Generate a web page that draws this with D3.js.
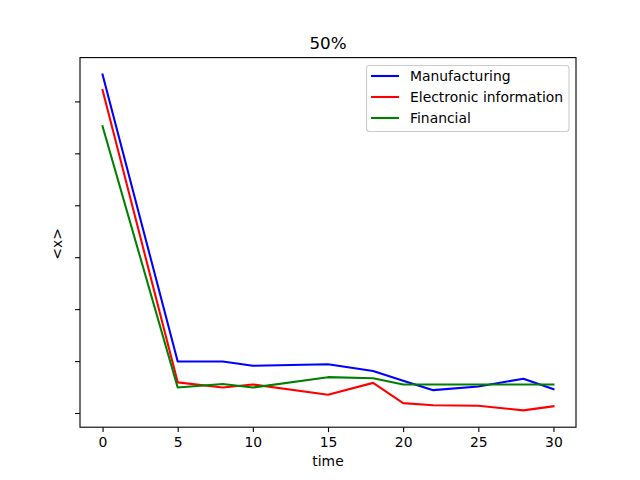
<!DOCTYPE html>
<html><head><meta charset="utf-8">
<script src="https://cdn.jsdelivr.net/npm/d3@7"></script>
<style>body{margin:0;background:#fff}svg{display:block;font-family:"DejaVu Sans",sans-serif}</style>
</head><body><svg id="c" width="640" height="480"></svg>
<script>
const times = [0, 5, 8, 10, 15, 18, 20, 22, 25, 28, 30];
const manufacturing = [6.52, 0.99, 0.99, 0.91, 0.94, 0.81, 0.62, 0.44, 0.51, 0.66, 0.46];
const electronic = [6.22, 0.59, 0.49, 0.55, 0.35, 0.58, 0.19, 0.15, 0.14, 0.05, 0.13];
const financial = [5.52, 0.49, 0.56, 0.49, 0.69, 0.67, 0.55, 0.55, 0.55, 0.55, 0.55];
const seriesNames = ["Manufacturing", "Electronic information", "Financial"];
const seriesColors = ["#0000ff", "#ff0000", "#008000"];
const xTicks = [0, 5, 10, 15, 20, 25, 30];
const yTicks = [0, 1, 2, 3, 4, 5, 6];
const title = "50%", xLabel = "time", yLabel = "<x>";

const svg = d3.select("#c");
const L = 80, R = 576, T = 57.6, B = 427.2;
const allY = manufacturing.concat(electronic, financial);
const yMin = d3.min(allY), yMax = d3.max(allY), yPad = (yMax - yMin) * 0.05;
const x = d3.scaleLinear().domain([-1.5, 31.5]).range([L, R]);
const y = d3.scaleLinear().domain([yMin - yPad, yMax + yPad]).range([B, T]);

const series = [manufacturing, electronic, financial];
const line = d3.line().x((d, i) => x(times[i])).y(d => y(d));
series.forEach((s, k) => {
  svg.append("path").datum(s).attr("d", line).attr("fill", "none")
    .attr("stroke", seriesColors[k]).attr("stroke-width", 2.08)
    .attr("stroke-linejoin", "round").attr("stroke-linecap", "square");
});

const xAxis = svg.append("g").attr("transform", `translate(0,${B})`)
  .call(d3.axisBottom(x).tickValues(xTicks).tickSize(4.9).tickPadding(4.9).tickFormat(d3.format("d")));
const yAxis = svg.append("g").attr("transform", `translate(${L},0)`)
  .call(d3.axisLeft(y).tickValues(yTicks).tickSize(4.9).tickFormat(""));
[xAxis, yAxis].forEach(g => {
  g.select(".domain").remove();
  g.selectAll("line").attr("stroke", "#000").attr("stroke-width", 1.1);
  g.selectAll("text").attr("font-size", 13.9).attr("fill", "#000").attr("font-family", "DejaVu Sans");
});
svg.append("rect").attr("x", L).attr("y", T).attr("width", R - L).attr("height", B - T)
  .attr("fill", "none").attr("stroke", "#000").attr("stroke-width", 1.1);

svg.append("text").attr("x", (L + R) / 2).attr("y", 49).attr("text-anchor", "middle")
  .attr("font-size", 16.7).text(title);
svg.append("text").attr("x", (L + R) / 2).attr("y", 466).attr("text-anchor", "middle")
  .attr("font-size", 13.9).text(xLabel);
svg.append("text").attr("transform", `translate(61.5,${(T + B) / 2 + 1.5}) rotate(-90)`).attr("text-anchor", "middle")
  .attr("font-size", 13.9).text(yLabel);

const lg = svg.append("g");
lg.append("rect").attr("x", 366.5).attr("y", 65.5).attr("width", 202.5).attr("height", 66)
  .attr("rx", 3).attr("fill", "#fff").attr("fill-opacity", 0.8).attr("stroke", "#cccccc").attr("stroke-width", 1.1);
seriesNames.forEach((n, k) => {
  const yy = 76 + k * 21;
  lg.append("line").attr("x1", 371).attr("x2", 399).attr("y1", yy).attr("y2", yy)
    .attr("stroke", seriesColors[k]).attr("stroke-width", 2.08);
  lg.append("text").attr("x", 410).attr("y", yy + 5).attr("font-size", 13.9).text(n);
});
</script></body></html>
